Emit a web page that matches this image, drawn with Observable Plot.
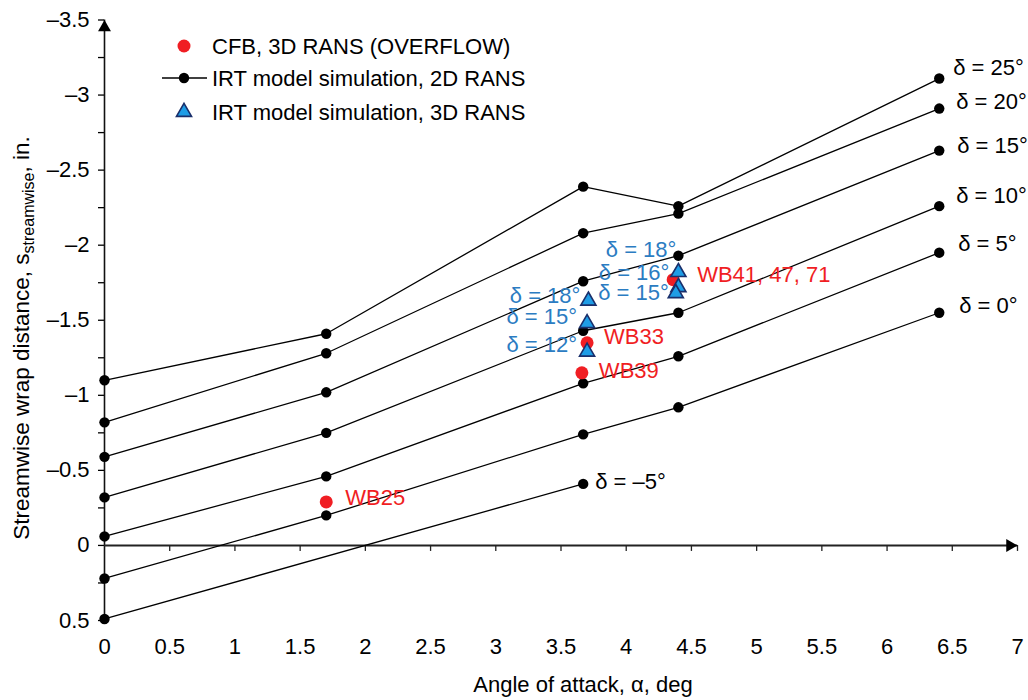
<!DOCTYPE html>
<html><head><meta charset="utf-8">
<script src="https://cdn.jsdelivr.net/npm/d3@7"></script>
<script src="https://cdn.jsdelivr.net/npm/@observablehq/plot@0.6"></script>
<style>body{margin:0;background:#fff}</style>
</head><body><div id="chart"></div>
<script>
// ---- data ----
const alpha = [0, 1.7, 3.67, 4.4, 6.4];
const deltaLabels = ["δ = 25°", "δ = 20°", "δ = 15°", "δ = 10°", "δ = 5°", "δ = 0°"];
const s25 = [-1.10, -1.41, -2.39, -2.26, -3.11];
const s20 = [-0.82, -1.28, -2.08, -2.21, -2.91];
const s15 = [-0.59, -1.02, -1.76, -1.93, -2.63];
const s10 = [-0.32, -0.75, -1.43, -1.55, -2.26];
const s5  = [-0.06, -0.46, -1.08, -1.26, -1.95];
const s0  = [ 0.22, -0.20, -0.74, -0.92, -1.55];
const series2D = [s25, s20, s15, s10, s5, s0];
const alphaM5 = [0, 3.67];
const sM5 = [0.49, -0.41];
const labelM5 = "δ = –5°";

const cfbAlpha = [1.70, 3.70, 3.66, 4.36];
const cfbS = [-0.29, -1.35, -1.15, -1.77];
const cfbLabels = ["WB25", "WB33", "WB39", "WB41, 47, 71"];

const rans3dAlpha = [3.71, 3.70, 3.70, 4.40, 4.40, 4.38];
const rans3dS = [-1.63, -1.48, -1.29, -1.82, -1.72, -1.68];
const rans3dLabels = ["δ = 18°", "δ = 15°", "δ = 12°", "δ = 18°", "δ = 16°", "δ = 15°"];

const legendLabels = ["CFB, 3D RANS (OVERFLOW)", "IRT model simulation, 2D RANS", "IRT model simulation, 3D RANS"];
const xTicks = d3.range(0, 7.001, 0.5);
const yTicks = d3.range(-3.5, 0.501, 0.25);
const xTitle = "Angle of attack, α, deg";

// ---- styling / layout ----
const FONT = "Liberation Sans, Arial, Helvetica, sans-serif";
const FS = 22;
const RED = "#f01e23", BLUE_TXT = "#2b7cc2", TRI_FILL = "#1f9de6", TRI_STROKE = "#1a2f6b";
const rightOffsets = [[14,-11],[17,-7],[18,-5],[17,-10],[19,-9],[20,-7]];
const m5Offset = [12,-2];
const cfbOffsets = [[19,-4],[17,-6],[17,-2],[24,-5]];
const triOffsets = [[-8,-5],[-10,-6],[-10,-7],[-2,-22],[-9,-14],[-7,0]];

const rows = [];
series2D.forEach((s, i) => s.forEach((v, j) => rows.push({a: alpha[j], s: v, d: deltaLabels[i]})));
alphaM5.forEach((a, j) => rows.push({a, s: sM5[j], d: labelM5}));
const cfb = cfbAlpha.map((a, i) => ({a, s: cfbS[i], t: cfbLabels[i]}));
const tri = rans3dAlpha.map((a, i) => ({a, s: rans3dS[i], t: rans3dLabels[i]}));

const fmt = d => {
  const isHalf = Math.abs(d * 2 - Math.round(d * 2)) < 1e-9;
  if (!isHalf) return "";
  if (Math.abs(d) < 1e-9) return "0";
  return (d < 0 ? "–" : "") + String(Math.abs(d));
};

const marks = [
  // axes
  Plot.axisY({ticks: yTicks, tickSize: 6, tickPadding: 9, tickFormat: fmt, fontSize: FS, label: null, strokeWidth: 1.3}),
  Plot.axisX({ticks: xTicks, tickSize: 0, tickPadding: 18, tickFormat: d => String(d), fontSize: FS, label: null}),
  Plot.ruleX([0], {y1: 0.5, y2: -3.5, stroke: "#111", strokeWidth: 1.6}),
  Plot.ruleY([0], {x1: 0, x2: 7, stroke: "#222", strokeWidth: 2}),
  Plot.ruleX(xTicks.slice(1), {y1: 0, y2: 0.04, stroke: "#222", strokeWidth: 1.3}),
  Plot.dot([{a: 0, s: -3.5}], {x: "a", y: "s", symbol: "triangle", r: 4.8, fill: "#000", stroke: "none", dy: 7.5}),
  Plot.dot([{a: 7, s: 0}], {x: "a", y: "s", symbol: "triangle", r: 4.8, fill: "#000", stroke: "none", rotate: 90, dx: -7.5}),
  // 2D RANS lines
  Plot.line(rows, {x: "a", y: "s", z: "d", stroke: "#000", strokeWidth: 1.3}),
  Plot.dot(rows, {x: "a", y: "s", r: 5.2, fill: "#000", stroke: "none"}),
  // CFB red dots
  Plot.dot(cfb, {x: "a", y: "s", r: 6.5, fill: RED, stroke: "none"}),
  // 3D RANS triangles
  Plot.dot(tri, {x: "a", y: "s", symbol: "triangle", r: 5.6, fill: TRI_FILL, stroke: TRI_STROKE, strokeWidth: 1.6})
];

// right-end delta labels
series2D.forEach((s, i) => {
  marks.push(Plot.text([{a: alpha[alpha.length - 1], s: s[s.length - 1]}], {
    x: "a", y: "s", text: () => deltaLabels[i], textAnchor: "start",
    dx: rightOffsets[i][0], dy: rightOffsets[i][1], fontSize: FS, fill: "#000"
  }));
});
marks.push(Plot.text([{a: alphaM5[1], s: sM5[1]}], {
  x: "a", y: "s", text: () => labelM5, textAnchor: "start", dx: m5Offset[0], dy: m5Offset[1], fontSize: FS, fill: "#000"
}));
cfb.forEach((p, i) => marks.push(Plot.text([p], {
  x: "a", y: "s", text: "t", textAnchor: "start", dx: cfbOffsets[i][0], dy: cfbOffsets[i][1], fontSize: FS, fill: RED
})));
tri.forEach((p, i) => marks.push(Plot.text([p], {
  x: "a", y: "s", text: "t", textAnchor: "end", dx: triOffsets[i][0], dy: triOffsets[i][1], fontSize: FS, fill: BLUE_TXT
})));

const plot = Plot.plot({
  width: 1028, height: 700,
  marginLeft: 104, marginRight: 11, marginTop: 19.5, marginBottom: 80,
  style: {fontFamily: FONT, fontSize: FS + "px", background: "#fff", color: "#000"},
  x: {domain: [0, 7]},
  y: {domain: [0.5, -3.5]},
  marks
});

const svg = d3.select(plot);
// y-axis title with subscript
const yt = svg.append("text")
  .attr("transform", "translate(29,338) rotate(-90)")
  .attr("text-anchor", "middle")
  .attr("font-family", FONT).attr("font-size", 22.5).attr("fill", "#000");
yt.append("tspan").text("Streamwise wrap distance, s");
yt.append("tspan").attr("font-size", 16).attr("dy", 5).text("streamwise");
yt.append("tspan").attr("dy", -5).text(", in.");
// x-axis title
svg.append("text").attr("x", 583).attr("y", 692).attr("text-anchor", "middle")
  .attr("font-family", FONT).attr("font-size", FS).attr("fill", "#000").text(xTitle);
// legend
const lg = svg.append("g").attr("font-family", FONT).attr("font-size", FS).attr("text-anchor", "start");
const rowsY = [46, 78, 112];
lg.append("circle").attr("cx", 184).attr("cy", rowsY[0]).attr("r", 6.5).attr("fill", RED);
lg.append("line").attr("x1", 162).attr("x2", 207).attr("y1", rowsY[1]).attr("y2", rowsY[1]).attr("stroke", "#000").attr("stroke-width", 1.3);
lg.append("circle").attr("cx", 184).attr("cy", rowsY[1]).attr("r", 5.2).attr("fill", "#000");
lg.append("path").attr("transform", `translate(184,${rowsY[2]})`)
  .attr("d", d3.symbol(d3.symbolTriangle, Math.PI * 5.6 * 5.6)())
  .attr("fill", TRI_FILL).attr("stroke", TRI_STROKE).attr("stroke-width", 1.6);
legendLabels.forEach((t, i) => lg.append("text").attr("x", 212).attr("y", rowsY[i]).attr("dy", "0.35em")
  .attr("text-anchor", "start").attr("fill", "#000").text(t));

document.getElementById("chart").appendChild(plot);
</script></body></html>
